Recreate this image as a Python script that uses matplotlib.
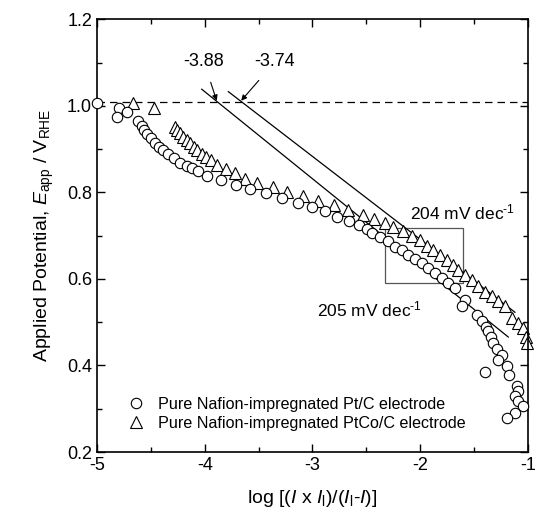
import matplotlib.pyplot as plt
import matplotlib.patches as patches
import numpy as np

plt.rcParams['font.family'] = ['Liberation Sans', 'DejaVu Sans']
plt.rcParams['mathtext.fontset'] = 'custom'
plt.rcParams['mathtext.rm'] = 'Liberation Sans'
plt.rcParams['mathtext.it'] = 'Liberation Sans:italic'

# Pt/C electrode (circles)
pt_x = [-5.0, -4.80, -4.72, -4.81, -4.617, -4.586, -4.561, -4.533, -4.502, -4.462,
        -4.425, -4.39, -4.338, -4.285, -4.23, -4.168, -4.121, -4.06, -3.982, -3.849,
        -3.710, -3.58, -3.432, -3.286, -3.132, -3.007, -2.884, -2.77, -2.658, -2.566,
        -2.491, -2.451, -2.374, -2.297, -2.234, -2.172, -2.111, -2.049, -1.987, -1.925,
        -1.863, -1.801, -1.740, -1.678, -1.585, -1.616, -1.476, -1.430, -1.39, -1.368,
        -1.346, -1.321, -1.29, -1.244, -1.276, -1.199, -1.399, -1.173, -1.105, -1.09,
        -1.121, -1.09, -1.05, -1.121, -1.199]
pt_y = [1.007, 0.995, 0.987, 0.975, 0.964, 0.954, 0.945, 0.935, 0.925, 0.915,
        0.906, 0.897, 0.889, 0.879, 0.869, 0.861, 0.856, 0.85, 0.838, 0.829,
        0.818, 0.808, 0.798, 0.787, 0.775, 0.766, 0.756, 0.744, 0.735, 0.725,
        0.715, 0.707, 0.697, 0.687, 0.675, 0.666, 0.656, 0.646, 0.637, 0.625,
        0.614, 0.602, 0.591, 0.579, 0.552, 0.537, 0.517, 0.502, 0.490, 0.479,
        0.467, 0.453, 0.438, 0.425, 0.413, 0.398, 0.386, 0.379, 0.353, 0.340,
        0.329, 0.317, 0.306, 0.290, 0.279]

# PtCo/C electrode (triangles)
co_x = [-4.663, -4.468, -4.276, -4.255, -4.23, -4.199, -4.168, -4.137, -4.1, -4.069,
        -4.028, -3.988, -3.945, -3.889, -3.803, -3.719, -3.626, -3.512, -3.37, -3.24,
        -3.091, -2.946, -2.80, -2.668, -2.534, -2.429, -2.327, -2.25, -2.157, -2.08,
        -2.0, -1.94, -1.879, -1.817, -1.755, -1.699, -1.647, -1.585, -1.522, -1.461,
        -1.399, -1.337, -1.276, -1.214, -1.152, -1.09, -1.044, -1.019, -1.006]
co_y = [1.006, 0.995, 0.952, 0.945, 0.937, 0.929, 0.921, 0.914, 0.906, 0.898,
        0.889, 0.882, 0.874, 0.864, 0.854, 0.845, 0.831, 0.821, 0.812, 0.802,
        0.791, 0.781, 0.771, 0.760, 0.748, 0.738, 0.729, 0.720, 0.710, 0.700,
        0.689, 0.677, 0.667, 0.656, 0.644, 0.633, 0.621, 0.610, 0.598, 0.584,
        0.571, 0.560, 0.548, 0.538, 0.510, 0.498, 0.487, 0.467, 0.452]

# Tafel fit lines
fit1_x = [-4.028, -1.183]
fit1_y = [1.0386, 0.4658]
fit2_x = [-3.781, -1.121]
fit2_y = [1.033, 0.523]
e_ref = 1.008

fig = plt.figure(figsize=(5.37, 5.17), dpi=100)
ax = fig.add_axes([0.1806, 0.1257, 0.8026, 0.8368])

ax.add_patch(patches.Rectangle((-2.327, 0.5905), 0.727, 0.1271, fill=False,
                               edgecolor='#555555', lw=0.9, zorder=1))
ax.axhline(e_ref, color='k', lw=0.9, ls=(0, (6, 4)), zorder=1)
ax.plot(fit1_x, fit1_y, color='k', lw=0.9, zorder=1)
ax.plot(fit2_x, fit2_y, color='k', lw=0.9, zorder=1)

ax.plot(pt_x, pt_y, 'o', ms=7.5, mfc='white', mec='k', mew=0.8, ls='none',
        zorder=3, clip_on=False, label='Pure Nafion-impregnated Pt/C electrode')
ax.plot(co_x, co_y, '^', ms=8, mfc='white', mec='k', mew=0.8, ls='none',
        zorder=2, clip_on=False, label='Pure Nafion-impregnated PtCo/C electrode')

ax.annotate('-3.88', xy=(-3.889, 1.012), xytext=(-4.007, 1.102), ha='center',
            va='center', fontsize=13,
            arrowprops=dict(arrowstyle='-|>', color='k', lw=0.8, mutation_scale=8,
                            shrinkA=7, shrinkB=0))
ax.annotate('-3.74', xy=(-3.662, 1.012), xytext=(-3.348, 1.102), ha='center',
            va='center', fontsize=13,
            arrowprops=dict(arrowstyle='-|>', color='k', lw=0.8, mutation_scale=8,
                            shrinkA=7, shrinkB=0))

ax.text(-2.095, 0.753, r'204 mV dec$^{\text{-1}}$', fontsize=12.5, va='center')
ax.text(-2.961, 0.529, r'205 mV dec$^{\text{-1}}$', fontsize=12.5, va='center')

ax.set_xlim(-5, -1)
ax.set_ylim(0.2, 1.2)
ax.set_xticks([-5, -4, -3, -2, -1])
ax.set_xticklabels(['-5', '-4', '-3', '-2', '-1'])
ax.set_xticks(np.arange(-5, -1, 0.5), minor=True)
ax.set_yticks([0.2, 0.4, 0.6, 0.8, 1.0, 1.2])
ax.set_yticks(np.arange(0.3, 1.2, 0.2), minor=True)
ax.tick_params(which='both', direction='in', top=True, right=True, labelsize=13,
               width=1.0)
ax.tick_params(which='major', length=5.5)
ax.tick_params(which='minor', length=3.5)
for s in ax.spines.values():
    s.set_linewidth(1.2)

ax.set_xlabel(r'log [($\it{I}$ x $\it{I}$$_{\rm l}$)/($\it{I}$$_{\rm l}$-$\it{I}$)]',
              fontsize=14, labelpad=10)
ax.set_ylabel(r'Applied Potential, $\it{E}$$_{\rm app}$ / V$_{\rm RHE}$',
              fontsize=14, labelpad=8)

ax.legend(loc='lower left', bbox_to_anchor=(0.03, 0.015), frameon=False, fontsize=11.6,
          handletextpad=0.6, labelspacing=0.25, handlelength=1.5)

fig.savefig('out.png', dpi=100)
